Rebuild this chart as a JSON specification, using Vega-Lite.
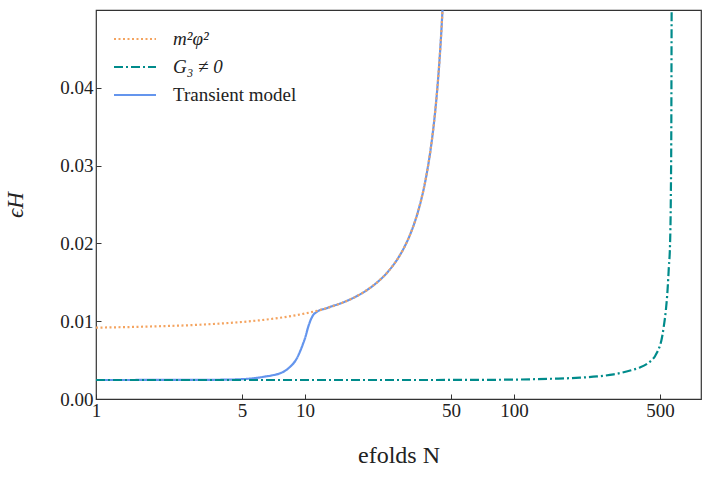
{
  "$schema": "https://vega.github.io/schema/vega-lite/v6.json",
  "width": 605,
  "height": 389,
  "autosize": {"type": "none"},
  "padding": {"left": 96, "top": 10, "right": 8, "bottom": 78},
  "background": "white",
  "config": {
    "view": {"stroke": "#333333", "strokeWidth": 1.2},
    "font": "Liberation Serif",
    "axis": {
      "grid": false,
      "domain": false,
      "labelFont": "Liberation Serif",
      "labelFontSize": 19,
      "labelColor": "#222222",
      "labelFlush": false,
      "titleFont": "Liberation Serif",
      "titleFontWeight": "normal",
      "titleColor": "#222222",
      "tickColor": "#333333",
      "tickSize": -5,
      "tickWidth": 1
    }
  },
  "data": {
    "values": [
      {"series": "m²φ²", "N": 1, "eps": 0.00917},
      {"series": "m²φ²", "N": 1.5, "eps": 0.00926},
      {"series": "m²φ²", "N": 2, "eps": 0.00935},
      {"series": "m²φ²", "N": 3, "eps": 0.00952},
      {"series": "m²φ²", "N": 4, "eps": 0.00971},
      {"series": "m²φ²", "N": 5, "eps": 0.0099},
      {"series": "m²φ²", "N": 6, "eps": 0.0101},
      {"series": "m²φ²", "N": 8, "eps": 0.01053},
      {"series": "m²φ²", "N": 10, "eps": 0.01099},
      {"series": "m²φ²", "N": 12, "eps": 0.01149},
      {"series": "m²φ²", "N": 15, "eps": 0.01235},
      {"series": "m²φ²", "N": 18, "eps": 0.01333},
      {"series": "m²φ²", "N": 20, "eps": 0.01408},
      {"series": "m²φ²", "N": 22, "eps": 0.01493},
      {"series": "m²φ²", "N": 25, "eps": 0.01639},
      {"series": "m²φ²", "N": 28, "eps": 0.01818},
      {"series": "m²φ²", "N": 30, "eps": 0.01961},
      {"series": "m²φ²", "N": 32, "eps": 0.02128},
      {"series": "m²φ²", "N": 34, "eps": 0.02326},
      {"series": "m²φ²", "N": 36, "eps": 0.02564},
      {"series": "m²φ²", "N": 38, "eps": 0.02857},
      {"series": "m²φ²", "N": 40, "eps": 0.03226},
      {"series": "m²φ²", "N": 41, "eps": 0.03448},
      {"series": "m²φ²", "N": 42, "eps": 0.03704},
      {"series": "m²φ²", "N": 43, "eps": 0.04},
      {"series": "m²φ²", "N": 44, "eps": 0.04348},
      {"series": "m²φ²", "N": 45, "eps": 0.04762},
      {"series": "m²φ²", "N": 45.5, "eps": 0.05},

      {"series": "G₃ ≠ 0", "N": 1, "eps": 0.00244},
      {"series": "G₃ ≠ 0", "N": 10, "eps": 0.00244},
      {"series": "G₃ ≠ 0", "N": 30, "eps": 0.00244},
      {"series": "G₃ ≠ 0", "N": 70, "eps": 0.00246},
      {"series": "G₃ ≠ 0", "N": 120, "eps": 0.00253},
      {"series": "G₃ ≠ 0", "N": 150, "eps": 0.0026},
      {"series": "G₃ ≠ 0", "N": 207, "eps": 0.00274},
      {"series": "G₃ ≠ 0", "N": 250, "eps": 0.0029},
      {"series": "G₃ ≠ 0", "N": 300, "eps": 0.00317},
      {"series": "G₃ ≠ 0", "N": 330, "eps": 0.0034},
      {"series": "G₃ ≠ 0", "N": 360, "eps": 0.00366},
      {"series": "G₃ ≠ 0", "N": 400, "eps": 0.00405},
      {"series": "G₃ ≠ 0", "N": 431, "eps": 0.00448},
      {"series": "G₃ ≠ 0", "N": 456, "eps": 0.0050},
      {"series": "G₃ ≠ 0", "N": 473, "eps": 0.0055},
      {"series": "G₃ ≠ 0", "N": 482, "eps": 0.0059},
      {"series": "G₃ ≠ 0", "N": 490, "eps": 0.0063},
      {"series": "G₃ ≠ 0", "N": 500, "eps": 0.0069},
      {"series": "G₃ ≠ 0", "N": 507, "eps": 0.0075},
      {"series": "G₃ ≠ 0", "N": 514, "eps": 0.0083},
      {"series": "G₃ ≠ 0", "N": 522, "eps": 0.0095},
      {"series": "G₃ ≠ 0", "N": 533, "eps": 0.0114},
      {"series": "G₃ ≠ 0", "N": 543, "eps": 0.014},
      {"series": "G₃ ≠ 0", "N": 551, "eps": 0.017},
      {"series": "G₃ ≠ 0", "N": 558, "eps": 0.0198},
      {"series": "G₃ ≠ 0", "N": 563, "eps": 0.026},
      {"series": "G₃ ≠ 0", "N": 566, "eps": 0.035},
      {"series": "G₃ ≠ 0", "N": 568, "eps": 0.05},

      {"series": "Transient model", "N": 1, "eps": 0.00244},
      {"series": "Transient model", "N": 2, "eps": 0.00245},
      {"series": "Transient model", "N": 3, "eps": 0.00246},
      {"series": "Transient model", "N": 4, "eps": 0.00248},
      {"series": "Transient model", "N": 5, "eps": 0.00255},
      {"series": "Transient model", "N": 6, "eps": 0.00275},
      {"series": "Transient model", "N": 6.5, "eps": 0.0029},
      {"series": "Transient model", "N": 7, "eps": 0.00305},
      {"series": "Transient model", "N": 7.6, "eps": 0.0033},
      {"series": "Transient model", "N": 8, "eps": 0.0036},
      {"series": "Transient model", "N": 8.5, "eps": 0.00415},
      {"series": "Transient model", "N": 9.13, "eps": 0.0052},
      {"series": "Transient model", "N": 9.5, "eps": 0.0062},
      {"series": "Transient model", "N": 9.82, "eps": 0.0072},
      {"series": "Transient model", "N": 10, "eps": 0.0078},
      {"series": "Transient model", "N": 10.37, "eps": 0.0093},
      {"series": "Transient model", "N": 10.7, "eps": 0.0103},
      {"series": "Transient model", "N": 10.96, "eps": 0.0108},
      {"series": "Transient model", "N": 11.4, "eps": 0.0112},
      {"series": "Transient model", "N": 11.8, "eps": 0.01144},
      {"series": "Transient model", "N": 12.5, "eps": 0.0116},
      {"series": "Transient model", "N": 13, "eps": 0.01178},
      {"series": "Transient model", "N": 15, "eps": 0.01235},
      {"series": "Transient model", "N": 18, "eps": 0.01333},
      {"series": "Transient model", "N": 20, "eps": 0.01408},
      {"series": "Transient model", "N": 22, "eps": 0.01493},
      {"series": "Transient model", "N": 25, "eps": 0.01639},
      {"series": "Transient model", "N": 28, "eps": 0.01818},
      {"series": "Transient model", "N": 30, "eps": 0.01961},
      {"series": "Transient model", "N": 32, "eps": 0.02128},
      {"series": "Transient model", "N": 34, "eps": 0.02326},
      {"series": "Transient model", "N": 36, "eps": 0.02564},
      {"series": "Transient model", "N": 38, "eps": 0.02857},
      {"series": "Transient model", "N": 40, "eps": 0.03226},
      {"series": "Transient model", "N": 41, "eps": 0.03448},
      {"series": "Transient model", "N": 42, "eps": 0.03704},
      {"series": "Transient model", "N": 43, "eps": 0.04},
      {"series": "Transient model", "N": 44, "eps": 0.04348},
      {"series": "Transient model", "N": 45, "eps": 0.04762},
      {"series": "Transient model", "N": 45.5, "eps": 0.05}
    ]
  },
  "encoding": {
    "x": {
      "field": "N",
      "type": "quantitative",
      "scale": {"type": "log", "domain": [1, 785], "nice": false},
      "axis": {
        "values": [1, 5, 10, 50, 100, 500],
        "format": "d",
        "title": "efolds N",
        "titleFontSize": 24,
        "titlePadding": 23,
        "labelPadding": 7
      }
    },
    "y": {
      "field": "eps",
      "type": "quantitative",
      "scale": {"domain": [0, 0.05], "nice": false, "zero": false},
      "axis": {
        "values": [0, 0.01, 0.02, 0.03, 0.04],
        "format": ".2f",
        "title": "ϵH",
        "titleFontSize": 23,
        "titleFontStyle": "italic",
        "titlePadding": 32,
        "labelPadding": 8
      }
    },
    "color": {
      "field": "series",
      "type": "nominal",
      "scale": {
        "domain": ["m²φ²", "G₃ ≠ 0", "Transient model"],
        "range": ["#F4A460", "#008B8B", "#6495ED"]
      },
      "legend": {
        "orient": "none",
        "legendX": 17,
        "legendY": 19,
        "title": null,
        "padding": 0,
        "symbolType": "stroke",
        "symbolSize": 1764,
        "symbolStrokeWidth": 2,
        "clipHeight": 20,
        "labelFont": "Liberation Serif",
        "labelFontSize": 19,
        "labelColor": "#222222",
        "labelOffset": 16,
        "rowPadding": 8,
        "encode": {
          "labels": {
            "update": {
              "fontStyle": {"signal": "datum.label == 'Transient model' ? 'normal' : 'italic'"}
            }
          }
        }
      }
    },
    "strokeDash": {
      "field": "series",
      "type": "nominal",
      "scale": {
        "domain": ["m²φ²", "G₃ ≠ 0", "Transient model"],
        "range": [[2, 2.5], [9, 3, 2, 3], [1, 0]]
      }
    }
  },
  "layer": [
    {
      "transform": [{"filter": "datum.series == 'Transient model'"}],
      "mark": {"type": "line", "strokeWidth": 2.2, "clip": true, "interpolate": "monotone"}
    },
    {
      "transform": [{"filter": "datum.series == 'G₃ ≠ 0'"}],
      "mark": {"type": "line", "strokeWidth": 2.2, "clip": true, "interpolate": "monotone"}
    },
    {
      "transform": [{"filter": "datum.series == 'm²φ²'"}],
      "mark": {"type": "line", "strokeWidth": 2.2, "clip": true, "interpolate": "monotone"}
    }
  ]
}
